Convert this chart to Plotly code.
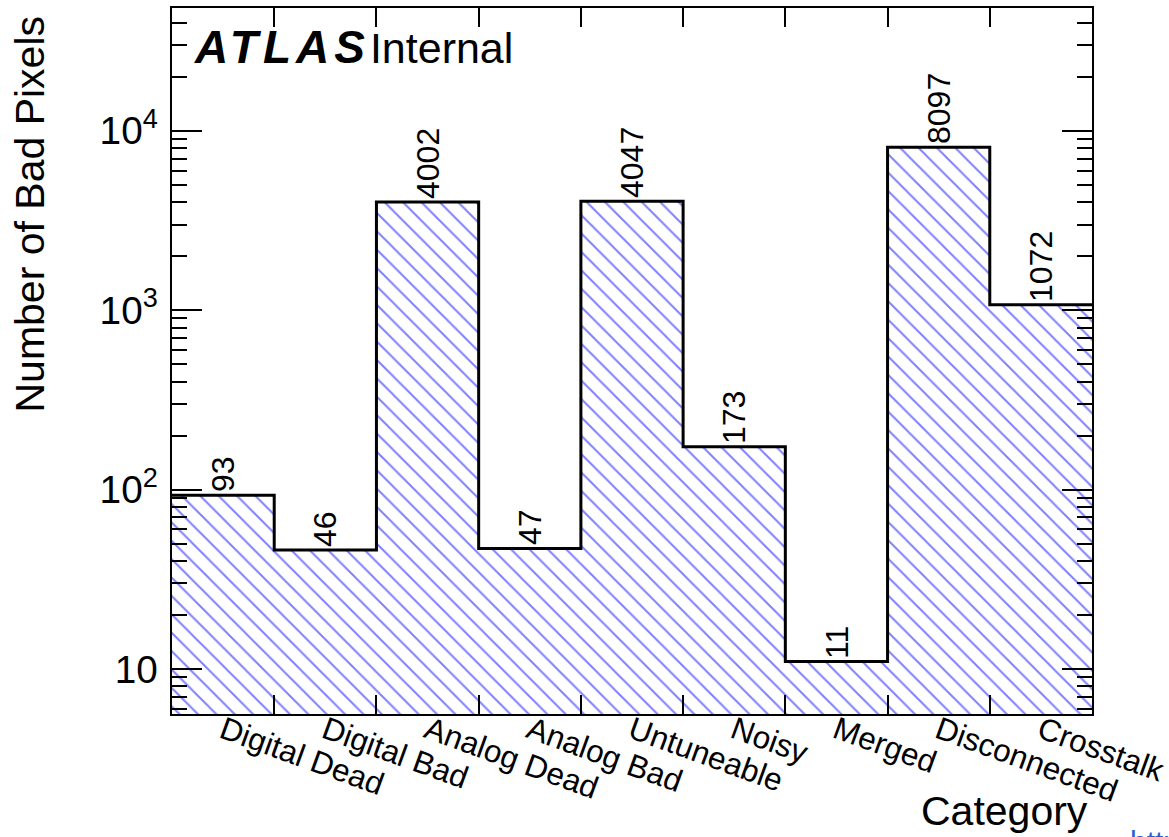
import numpy as np
import plotly.graph_objects as go

categories = ["Digital Dead", "Digital Bad", "Analog Dead", "Analog Bad", "Untuneable",
              "Noisy", "Merged", "Disconnected", "Crosstalk"]
counts = [93, 46, 4002, 47, 4047, 173, 11, 8097, 1072]

FONT = "Liberation Sans, Arial, Helvetica, sans-serif"

n = len(categories)
centers = np.arange(n) + 0.5
edges = np.arange(n + 1)
step_y = counts + [counts[-1]]

fig = go.Figure()

fig.add_trace(go.Bar(
    x=centers, y=counts, width=1.0,
    marker=dict(color="white", line=dict(width=0),
                pattern=dict(shape="\\", fgcolor="#0000ff", bgcolor="white",
                             size=13, solidity=0.15)),
    text=[str(c) for c in counts], texttemplate="%{text}",
    textposition="outside", textangle=-90, constraintext="none",
    textfont=dict(family=FONT, size=32, color="black"),
    cliponaxis=False, showlegend=False, hoverinfo="skip",
))

fig.add_trace(go.Scatter(
    x=edges, y=step_y, mode="lines", line=dict(shape="hv", color="black", width=3),
    showlegend=False, hoverinfo="skip",
))

# invisible trace to activate the secondary x axis carrying the bin-edge ticks
fig.add_trace(go.Scatter(x=[edges[0]], y=[counts[0]], xaxis="x2", yaxis="y", mode="markers",
                         marker=dict(opacity=0), showlegend=False, hoverinfo="skip"))

fig.update_layout(
    width=1169, height=837, autosize=False,
    margin=dict(l=172, r=77, t=8, b=123, pad=0, autoexpand=False),
    paper_bgcolor="white", plot_bgcolor="white",
    font=dict(family=FONT, color="black"),
    bargap=0,
    xaxis=dict(
        range=[0, n], tickmode="array", tickvals=centers, ticktext=categories,
        tickangle=20, ticks="", showgrid=False, zeroline=False,
        showline=True, linecolor="black", linewidth=2, mirror=True,
        tickfont=dict(family=FONT, size=31.5, color="black"),
        ticklabelstandoff=-16, ticklabeloverflow="allow", automargin=False,
    ),
    xaxis2=dict(
        overlaying="x", anchor="y", side="bottom", range=[0, n],
        tickmode="array", tickvals=edges[1:-1], ticks="inside", ticklen=19,
        tickwidth=2, tickcolor="black", showticklabels=False, showgrid=False,
        zeroline=False, showline=False, mirror="ticks", automargin=False,
    ),
    yaxis=dict(
        type="log", range=[0.749, 4.684], dtick=1, exponentformat="power",
        ticks="inside", ticklen=30, tickwidth=2, tickcolor="black",
        minor=dict(ticks="inside", ticklen=15, tickwidth=2, tickcolor="black",
                   dtick="D1", showgrid=False),
        showgrid=False, zeroline=False, automargin=False,
        showline=True, linecolor="black", linewidth=2, mirror="ticks",
        tickfont=dict(family=FONT, size=31, color="black"), ticklabelstandoff=6,
    ),
)

fig.add_annotation(
    text="<span style='font-size:46px;letter-spacing:5px'><b><i>ATLAS</i></b></span>Internal",
    xref="paper", yref="paper",
    x=0.0215, y=0.9448, xanchor="left", yanchor="middle", showarrow=False,
    font=dict(family=FONT, size=43, color="black"),
)
fig.add_annotation(
    text="Number of Bad Pixels", xref="paper", yref="paper",
    x=0, y=1, xshift=-143, yshift=-6, xanchor="center", yanchor="top",
    textangle=-90, showarrow=False, font=dict(family=FONT, size=41, color="black"),
)
fig.add_annotation(
    text="Category", xref="paper", yref="paper",
    x=1, y=0, xshift=-2, yshift=-72, xanchor="right", yanchor="top",
    showarrow=False, font=dict(family=FONT, size=41, color="black"),
)
fig.add_annotation(
    text="https://", xref="paper", yref="paper",
    x=1, y=0, xshift=36, yshift=-109, xanchor="left", yanchor="top",
    showarrow=False, font=dict(family=FONT, size=30, color="#2a5fd6"),
)

fig.write_html("out.html", config={"displayModeBar": False},
               post_script="document.body.style.margin='0';")
